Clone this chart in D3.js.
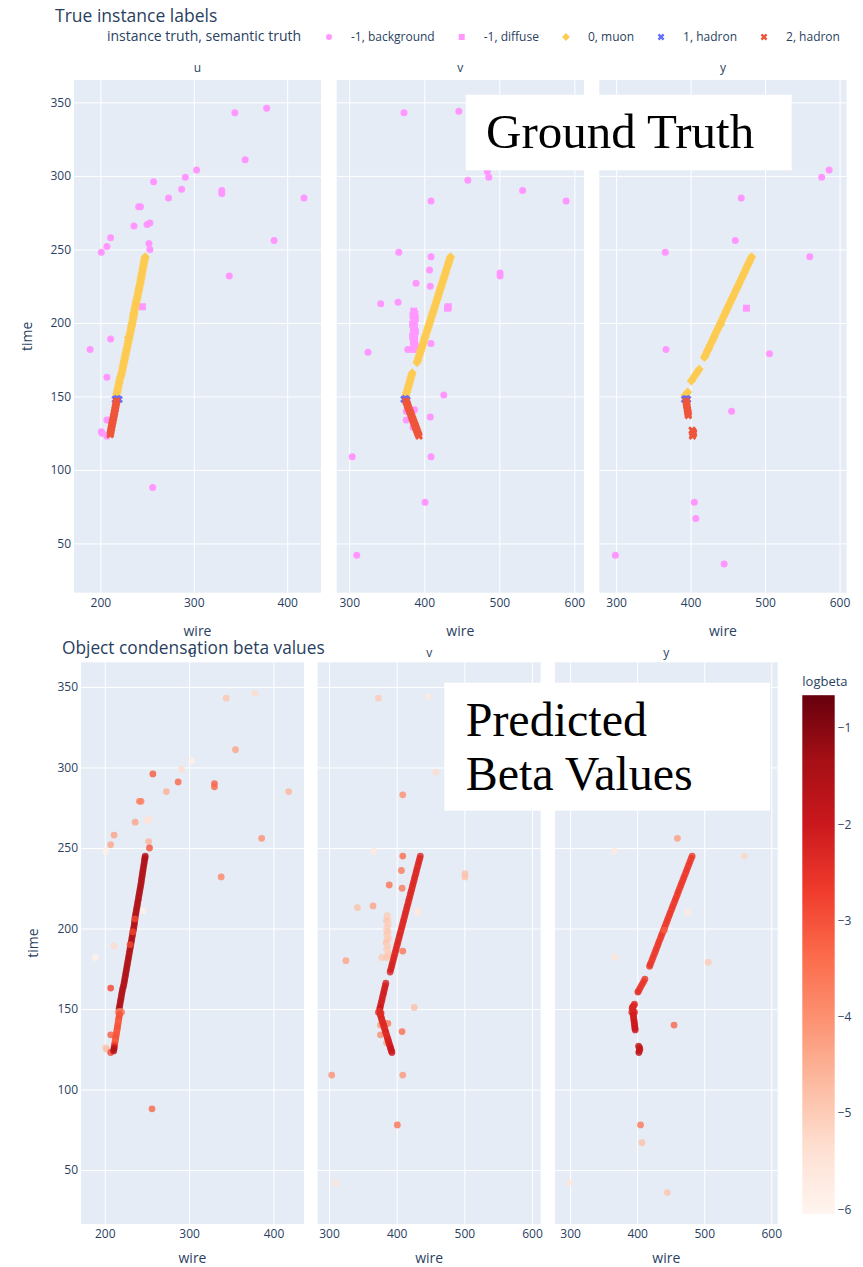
<!DOCTYPE html>
<html>
<head>
<meta charset="utf-8">
<script src="https://cdn.jsdelivr.net/npm/d3@7"></script>
<style>
  body { margin: 0; background: #fff; }
  svg { display: block; }
</style>
</head>
<body>
<svg id="chart" width="863" height="1267"></svg>
<script>
// ---------- data ----------
const planes = ["u", "v", "y"];
const wireTicks = { u: [200, 300, 400], v: [300, 400, 500, 600], y: [300, 400, 500, 600] };
const timeTicks = [50, 100, 150, 200, 250, 300, 350];
const wireDomain = { u: [171.8, 436.2], v: [283.3, 612.8], y: [277.4, 609.6] };
const timeDomain = [16.5, 365.3];
const logbetaDomain = [-6.05, -0.66];
const logbetaTicks = [-1, -2, -3, -4, -5, -6];

// hits: [wire, time, logbeta]
const uBackground = [
  [344,343,-4.9],[378,346,-5.3],[355,311,-4.3],[303,304,-5.9],[291,299,-5.3],[287,291,-3.3],
  [257,296,-3.1],[273,285,-4.5],[330,290,-3.2],[330,288,-3.3],[418,285,-4.6],[241,279,-3.8],
  [243,279,-3.7],[236,266,-4.3],[250,267,-5.4],[253,268,-5.5],[211,258,-4.3],[207,252,-4.4],
  [201,248,-5.9],[252,254,-4.6],[253,250,-3.0],[386,256,-4.0],[338,232,-3.8],[189,182,-5.9],
  [211,189,-5.3],[207,163,-2.8],[207,134,-3.2],[201,126,-5.0],[202,125,-4.8],[207,123,-2.9],
  [256,88,-3.3]
];
const uDiffuse = [[245,211,-5.9]];
const uMuon = [
  [217,150,-1.4],[217.5,151.5,-1.5],[218,153,-1.5],[218.5,154.5,-1.6],[219,156,-1.5],
  [219.5,157.5,-1.5],[220,159,-1.6],[220.5,160.5,-1.5],[221,162,-1.6],[221.8,163.5,-1.5],
  [222.5,165,-1.5],[223,166.5,-1.6],[223.5,168,-1.5],[224,169.5,-1.5],[224.5,171,-1.6],
  [225,172.5,-1.5],[225.5,174,-1.5],[226,175.5,-1.6],[226.5,177,-1.5],[227,178.5,-1.5],
  [227.5,180,-1.6],[228,181.5,-1.5],[228.5,183,-1.5],[229,184.5,-1.6],[229.5,186,-1.6],
  [230,187.5,-1.5],[230.5,189,-1.5],[231,190.5,-1.6],[231.5,192,-1.6],[232,193.5,-1.5],
  [232.5,195,-1.5],[233,196.5,-1.6],[233.5,198,-1.6],[234,199.5,-1.5],[234.5,201,-1.5],
  [235,202.5,-1.6],[235.3,204,-1.5],[235.7,205.5,-1.6],[236,207,-1.6],[236.5,208.5,-1.5],
  [237,210,-1.5],[237.5,211.5,-1.6],[238,213,-1.5],[238.5,214.5,-1.5],[239,216,-1.6],
  [239.5,217.5,-1.5],[240,219,-1.5],[240.5,220.5,-1.6],[241,222,-1.5],[241.5,223.5,-1.6],
  [242,225,-1.5],[242.5,226.5,-1.5],[243,228,-1.6],[243.4,229.5,-1.5],[243.8,231,-1.6],
  [244.2,232.5,-1.5],[244.7,234,-1.5],[245.1,235.5,-1.6],[245.5,237,-1.5],[246,238.5,-1.6],
  [246.5,240,-1.5],[246.9,241.5,-1.5],[247.3,243,-1.6],[247.7,244,-1.5],[248,245,-1.6],
  [230,190,-2.9],[233.3,198,-2.8],[235.8,206,-2.9]
];
const uHadron1 = [[216,148,-3.8],[218,148.5,-3.7],[220,148,-3.6]];
const uHadron2 = [
  [217.5,147,-3.0],[217.2,146,-3.1],[216.9,145,-3.1],[216.6,144,-3.0],[216.3,143,-3.0],
  [216,142,-3.2],[215.7,141,-3.2],[215.4,140,-3.1],[215.1,139,-3.1],[214.8,138,-3.0],
  [214.5,137,-3.0],[214.2,136,-3.1],[213.9,135,-3.2],[213.5,134,-3.1],[213.2,133,-3.1],
  [212.9,132,-3.0],[212.6,131,-3.0],[212.3,130,-3.2],[212,129,-3.2],[211.7,128,-2.9],
  [211.4,127,-2.6],[211.1,126,-2.0],[210.8,125,-1.7],[210.5,124,-1.6]
];

const vBackground = [
  [373,343,-5.0],[446,344,-5.7],[484,303,-5.0],[486,299,-5.0],[458,297,-5.3],[531,290,-4.5],
  [589,283,-5.0],[409,283,-4.0],[366,248,-5.7],[409,245,-3.4],[407,236,-3.6],[501,234,-4.8],
  [501,232,-4.8],[389,227,-3.5],[408,225,-3.6],[342,213,-4.8],[365,214,-4.3],[409,186,-3.5],
  [325,180,-4.3],[378,182,-5.0],[426,151,-4.8],[376,140,-4.2],[387,141,-3.6],[376,134,-4.0],
  [408,136,-3.4],[385,129,-4.3],[304,109,-4.0],[409,109,-4.1],[401,78,-3.5],[310,42,-5.5]
];
const vDiffuse = [
  [386,208,-5.0],[387.5,206,-5.2],[385,205,-4.9],[388,203,-5.1],[386,201,-5.0],[384.5,199,-5.2],
  [387,198,-4.9],[385.5,196,-5.0],[388,194,-5.1],[386,193,-5.0],[384.5,191,-4.9],[387,189,-5.1],
  [385.5,187,-5.0],[386.5,185,-5.2],[388,184,-5.0],[385,182,-4.9],[432,211,-5.6],[431,210,-5.7]
];
const vMuon = [
  [435,245,-2.3],[434.1,243.5,-2.3],[433.1,242,-2.4],[432.2,240.5,-2.3],[431.3,239,-2.3],
  [430.3,237.5,-2.4],[429.4,236,-2.3],[428.5,234.5,-2.3],[427.6,233,-2.4],[426.6,231.5,-2.3],
  [425.7,230,-2.3],[424.8,228.5,-2.4],[423.8,227,-2.3],[422.9,225.5,-2.3],[422,224,-2.4],
  [421,222.5,-2.3],[420.1,221,-2.3],[419.2,219.5,-2.4],[418.2,218,-2.3],[417.3,216.5,-2.3],
  [416.4,215,-2.4],[415.4,213.5,-2.3],[414.5,212,-2.3],[413.6,210.5,-2.4],[412.7,209,-2.3],
  [411.7,207.5,-2.3],[410.8,206,-2.4],[409.9,204.5,-2.3],[408.9,203,-2.3],[408,201.5,-2.4],
  [407.1,200,-2.3],[406.1,198.5,-2.3],[405.2,197,-2.4],[404.3,195.5,-2.3],[403.3,194,-2.3],
  [402.4,192.5,-2.4],[401.5,191,-2.3],[400.5,189.5,-2.3],[399.6,188,-2.4],[398.7,186.5,-2.3],
  [397.8,185,-2.3],[396.8,183.5,-2.4],[395.9,182,-2.3],[395,180.5,-2.3],[394,179,-2.3],
  [393.1,177.5,-2.2],[392.2,176,-2.2],[391.2,174.5,-2.2],[390.3,173,-2.2],
  [384,166,-2.2],[383.2,164.5,-2.2],[382.3,163,-2.1],[381.5,161.5,-2.2],[380.6,160,-2.1],
  [379.8,158.5,-2.1],[378.9,157,-2.2],[378.1,155.5,-2.1],[377.3,154,-2.1],[376.4,152.5,-2.1],
  [375.6,151,-2.0],[375,150,-2.0]
];
const vHadron1 = [[373,148,-2.5],[375,148.5,-2.5],[377,147.5,-2.5]];
const vHadron2 = [
  [375.5,147,-2.3],[376.2,146,-2.4],[377,145,-2.4],[377.7,144,-2.3],[378.4,143,-2.3],
  [379.1,142,-2.4],[379.9,141,-2.4],[380.6,140,-2.3],[381.3,139,-2.3],[382.1,138,-2.4],
  [382.8,137,-2.4],[383.5,136,-2.3],[384.2,135,-2.3],[385,134,-2.4],[385.7,133,-2.4],
  [386.4,132,-2.3],[387.2,131,-2.3],[387.9,130,-2.2],[388.6,129,-2.2],[389.3,128,-2.2],
  [390.1,127,-2.1],[390.8,126,-2.1],[391.5,125,-2.0],[392.3,124,-2.0],[393,123,-2.0]
];

const yBackground = [
  [586,304,-5.0],[576,299,-5.0],[468,285,-5.0],[460,256,-4.2],[366,248,-5.7],[560,245,-5.2],
  [367,182,-5.5],[506,179,-5.0],[455,140,-3.3],[405,78,-3.6],[407,67,-4.8],[299,42,-5.6],
  [445,36,-4.9]
];
const yDiffuse = [[475,210,-5.7]];
const yMuon = [
  [482,245,-2.6],[480.6,243.5,-2.6],[479.2,242,-2.7],[477.8,240.5,-2.6],[476.4,239,-2.6],
  [475,237.5,-2.7],[473.7,236,-2.6],[472.3,234.5,-2.6],[470.9,233,-2.7],[469.5,231.5,-2.6],
  [468.1,230,-2.6],[466.7,228.5,-2.7],[465.3,227,-2.6],[463.9,225.5,-2.6],[462.5,224,-2.7],
  [461.1,222.5,-2.6],[459.8,221,-2.6],[458.4,219.5,-2.7],[457,218,-2.6],[455.6,216.5,-2.6],
  [454.2,215,-2.7],[452.8,213.5,-2.6],[451.4,212,-2.6],[450,210.5,-2.7],[448.6,209,-2.6],
  [447.2,207.5,-2.6],[445.8,206,-2.7],[444.5,204.5,-2.6],[443.1,203,-2.6],[441.7,201.5,-2.7],
  [440.3,200,-2.6],[438.9,198.5,-2.6],[437.5,197,-2.7],[436.1,195.5,-2.6],[434.7,194,-2.6],
  [433.3,192.5,-2.7],[431.9,191,-2.6],[430.6,189.5,-2.6],[429.2,188,-2.7],[427.8,186.5,-2.6],
  [426.4,185,-2.6],[425,183.5,-2.7],[423.6,182,-2.6],[422.2,180.5,-2.6],[420.8,179,-2.7],
  [419.4,177.5,-2.6],[418.5,176.5,-2.6],
  [411.5,168.5,-2.5],[409.5,167,-2.6],[407.6,165.5,-2.5],[405.6,164,-2.6],[403.6,162.5,-2.5],
  [401.7,161,-2.6],[401,160.5,-2.5],
  [396,153,-2.4],[395,152.2,-2.4],[394,151.5,-2.3],[393,151,-2.3],[392.5,150.5,-2.3],
  [440.5,199,-3.2]
];
const yHadron1 = [[392,148,-2.3],[394,148.5,-2.3],[396,148,-2.3]];
const yHadron2 = [
  [394,147,-2.2],[394.3,146,-2.1],[394.6,145,-2.2],[394.9,144,-2.1],[395.2,143,-2.2],
  [395.5,142,-2.0],[395.8,141,-2.1],[396.1,140,-2.0],[396.4,139,-2.1],[396.7,138,-2.0],
  [397,137,-2.0],
  [402,127,-1.9],[403.5,126,-1.8],[403,124,-1.9],[402.5,123,-1.8],[404,125,-1.9]
];

const hits = {
  u: { background: uBackground, diffuse: uDiffuse, muon: uMuon, hadron1: uHadron1, hadron2: uHadron2 },
  v: { background: vBackground, diffuse: vDiffuse, muon: vMuon, hadron1: vHadron1, hadron2: vHadron2 },
  y: { background: yBackground, diffuse: yDiffuse, muon: yMuon, hadron1: yHadron1, hadron2: yHadron2 }
};

const classKeys = ["background", "diffuse", "muon", "hadron1", "hadron2"];
const classLabels = ["-1, background", "-1, diffuse", "0, muon", "1, hadron", "2, hadron"];

// ---------- styling ----------
const FONT = '"Open Sans", verdana, arial, sans-serif';
const INK = "#2a3f5f";
const classStyle = {
  background: { color: "#FF97FF", symbol: "circle" },
  diffuse:    { color: "#FF97FF", symbol: "square" },
  muon:       { color: "#FECB52", symbol: "diamond" },
  hadron1:    { color: "#636EFA", symbol: "x" },
  hadron2:    { color: "#EF553B", symbol: "x" }
};
const redsStops = [
  [0, "rgb(255,245,240)"], [0.125, "rgb(254,224,210)"], [0.25, "rgb(252,187,161)"],
  [0.375, "rgb(252,146,114)"], [0.5, "rgb(251,106,74)"], [0.625, "rgb(239,59,44)"],
  [0.75, "rgb(203,24,29)"], [0.875, "rgb(165,15,21)"], [1, "rgb(103,0,13)"]
];
const color = d3.scaleLinear()
  .domain(redsStops.map(s => logbetaDomain[0] + s[0] * (logbetaDomain[1] - logbetaDomain[0])))
  .range(redsStops.map(s => s[1]))
  .interpolate(d3.interpolateRgb)
  .clamp(true);

function symbolPath(type, r) {
  if (type === "circle") return `M${r},0A${r},${r} 0 1,1 0,-${r}A${r},${r} 0 0,1 ${r},0Z`;
  if (type === "square") return `M${r},${r}H-${r}V-${r}H${r}Z`;
  if (type === "diamond") { const d = r * 1.3; return `M${d},0L0,${d}L-${d},0L0,-${d}Z`; }
  const a = +(r * 0.8 / Math.SQRT2).toFixed(2);
  const ne = `l${a},${a}`, se = `l${a},-${a}`, sw = `l-${a},-${a}`, nw = `l-${a},${a}`;
  return `M0,${a}` + ne + se + sw + se + sw + nw + sw + nw + ne + nw + ne + "Z";
}

const svg = d3.select("#chart");

// ---------- figure layouts ----------
const figTop = {
  yTop: 79.9, yBottom: 592.7,
  panels: { u: [74, 321], v: [336.7, 584], y: [599.3, 846.7] },
  title: "True instance labels", titleX: 55, titleY: 22, titleSize: 17.5,
  facetY: 72, tickY: 607, wireY: 636, timeX: 32
};
const figBottom = {
  yTop: 662.3, yBottom: 1224,
  panels: { u: [81, 304], v: [317.7, 540.7], y: [555, 777.7] },
  title: "Object condensation beta values", titleX: 62, titleY: 654, titleSize: 17.3,
  facetY: 657, tickY: 1238, wireY: 1263, timeX: 38
};

function drawFrame(fig, drawMarks) {
  const yScale = d3.scaleLinear().domain(timeDomain).range([fig.yBottom, fig.yTop]);
  const h = fig.yBottom - fig.yTop;

  planes.forEach((p, i) => {
    const [x0, x1] = fig.panels[p];
    const xScale = d3.scaleLinear().domain(wireDomain[p]).range([x0, x1]);
    const g = svg.append("g");

    g.append("rect")
      .attr("x", x0).attr("y", fig.yTop)
      .attr("width", x1 - x0).attr("height", h)
      .attr("fill", "#E5ECF6");

    // vertical grid
    const gx = g.append("g")
      .attr("transform", `translate(0,${fig.yBottom})`)
      .call(d3.axisBottom(xScale).tickValues(wireTicks[p]).tickSize(-h).tickFormat(""));
    gx.select(".domain").remove();
    gx.selectAll("line").attr("stroke", "#fff").attr("stroke-width", 1);

    // horizontal grid
    const gy = g.append("g")
      .attr("transform", `translate(${x0},0)`)
      .call(d3.axisLeft(yScale).tickValues(timeTicks).tickSize(-(x1 - x0)).tickFormat(""));
    gy.select(".domain").remove();
    gy.selectAll("line").attr("stroke", "#fff").attr("stroke-width", 1);

    // wire tick labels
    const ax = g.append("g")
      .attr("transform", `translate(0,${fig.tickY})`)
      .call(d3.axisBottom(xScale).tickValues(wireTicks[p]).tickSize(0).tickPadding(0));
    ax.select(".domain").remove();
    ax.selectAll("text").attr("dy", null).attr("y", 0)
      .attr("font-family", FONT).attr("font-size", 12).attr("fill", INK);

    if (i === 0) {
      const ay = g.append("g")
        .attr("transform", `translate(${x0},0)`)
        .call(d3.axisLeft(yScale).tickValues(timeTicks).tickSize(0).tickPadding(3));
      ay.select(".domain").remove();
      ay.selectAll("text").attr("font-family", FONT).attr("font-size", 12).attr("fill", INK);

      svg.append("text")
        .attr("transform", `translate(${fig.timeX},${(fig.yTop + fig.yBottom) / 2}) rotate(-90)`)
        .attr("text-anchor", "middle")
        .attr("font-family", FONT).attr("font-size", 14).attr("fill", INK)
        .text("time");
    }

    svg.append("text")
      .attr("x", (x0 + x1) / 2).attr("y", fig.wireY)
      .attr("text-anchor", "middle")
      .attr("font-family", FONT).attr("font-size", 14).attr("fill", INK)
      .text("wire");

    drawMarks(g, p, xScale, yScale);
  });

  svg.append("text")
    .attr("x", fig.titleX).attr("y", fig.titleY)
    .attr("font-family", FONT).attr("font-size", fig.titleSize).attr("fill", INK)
    .text(fig.title);

  planes.forEach(p => {
    const [x0, x1] = fig.panels[p];
    svg.append("text")
      .attr("x", (x0 + x1) / 2).attr("y", fig.facetY)
      .attr("text-anchor", "middle")
      .attr("font-family", FONT).attr("font-size", 12).attr("fill", INK)
      .text(p);
  });
}

// ---------- top: true instance labels ----------
drawFrame(figTop, (g, p, x, y) => {
  classKeys.forEach(k => {
    const st = classStyle[k];
    g.append("g").selectAll("path")
      .data(hits[p][k])
      .join("path")
      .attr("transform", d => `translate(${x(d[0])},${y(d[1])})`)
      .attr("d", symbolPath(st.symbol, 3.5))
      .attr("fill", st.color);
  });
});

// legend
(function () {
  const ly = 37;
  svg.append("text")
    .attr("x", 107).attr("y", ly + 4)
    .attr("font-family", FONT).attr("font-size", 14).attr("fill", INK)
    .text("instance truth, semantic truth");
  let sx = 329;
  classKeys.forEach((k, i) => {
    const st = classStyle[k];
    svg.append("path")
      .attr("transform", `translate(${sx},${ly})`)
      .attr("d", symbolPath(st.symbol, 3))
      .attr("fill", st.color);
    const t = svg.append("text")
      .attr("x", sx + 22).attr("y", ly + 4)
      .attr("font-family", FONT).attr("font-size", 12).attr("fill", INK)
      .text(classLabels[i]);
    sx = sx + 22 + t.node().getComputedTextLength() + 27;
  });
})();

// ---------- bottom: predicted beta values ----------
drawFrame(figBottom, (g, p, x, y) => {
  const all = classKeys.flatMap(k => hits[p][k]);
  g.append("g").selectAll("circle")
    .data(all)
    .join("circle")
    .attr("cx", d => x(d[0]))
    .attr("cy", d => y(d[1]))
    .attr("r", 3.4)
    .attr("fill", d => color(d[2]))
    .attr("fill-opacity", 0.8);
});

// colorbar
(function () {
  const cb = { x: 802.3, w: 32.4, top: 695.2, bottom: 1214 };
  const cScale = d3.scaleLinear().domain(logbetaDomain).range([cb.bottom, cb.top]);
  const grad = svg.append("defs").append("linearGradient")
    .attr("id", "reds").attr("x1", 0).attr("y1", 1).attr("x2", 0).attr("y2", 0);
  grad.selectAll("stop").data(redsStops).join("stop")
    .attr("offset", d => d[0]).attr("stop-color", d => d[1]);
  svg.append("rect")
    .attr("x", cb.x).attr("y", cb.top)
    .attr("width", cb.w).attr("height", cb.bottom - cb.top)
    .attr("fill", "url(#reds)");
  const ax = svg.append("g")
    .attr("transform", `translate(${cb.x + cb.w},0)`)
    .call(d3.axisRight(cScale).tickValues(logbetaTicks).tickSize(0).tickPadding(3)
      .tickFormat(d3.format("d")));
  ax.select(".domain").remove();
  ax.selectAll("text").attr("font-family", FONT).attr("font-size", 12).attr("fill", INK);
  svg.append("text")
    .attr("x", cb.x).attr("y", 686)
    .attr("font-family", FONT).attr("font-size", 13).attr("fill", INK)
    .text("logbeta");
})();

// ---------- caption boxes ----------
const SERIF = '"Liberation Serif", "Times New Roman", serif';
svg.append("rect").attr("x", 465.7).attr("y", 94.7).attr("width", 326).attr("height", 75.6).attr("fill", "#fff");
svg.append("text").attr("x", 486).attr("y", 148)
  .attr("font-family", SERIF).attr("font-size", 49).attr("fill", "#000")
  .text("Ground Truth");

svg.append("rect").attr("x", 444.3).attr("y", 682.7).attr("width", 325.7).attr("height", 128).attr("fill", "#fff");
const cap = svg.append("text").attr("font-family", SERIF).attr("font-size", 48).attr("fill", "#000");
cap.append("tspan").attr("x", 465.7).attr("y", 736).text("Predicted");
cap.append("tspan").attr("x", 465.7).attr("y", 790).text("Beta Values");
</script>
</body>
</html>
